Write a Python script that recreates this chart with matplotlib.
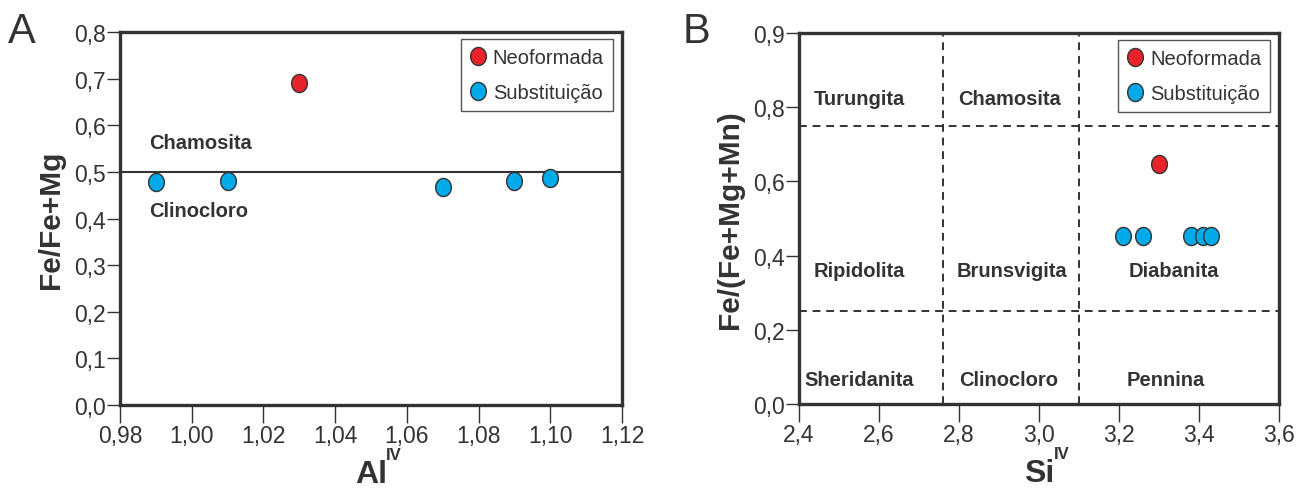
import matplotlib
matplotlib.use("Agg")
import matplotlib.pyplot as plt
import numpy as np
from matplotlib.path import Path
from matplotlib.lines import Line2D

# ---------------- data ----------------
# Panel A
a_neo_x = [1.03]
a_neo_y = [0.69]
a_sub_x = [0.99, 1.01, 1.07, 1.09, 1.10]
a_sub_y = [0.479, 0.480, 0.467, 0.481, 0.486]
a_xticks = [0.98, 1.00, 1.02, 1.04, 1.06, 1.08, 1.10, 1.12]
a_xticklabels = ["0,98", "1,00", "1,02", "1,04", "1,06", "1,08", "1,10", "1,12"]
a_yticks = [0.0, 0.1, 0.2, 0.3, 0.4, 0.5, 0.6, 0.7, 0.8]
a_yticklabels = ["0,0", "0,1", "0,2", "0,3", "0,4", "0,5", "0,6", "0,7", "0,8"]
a_boundary = 0.5
a_fields = ["Chamosita", "Clinocloro"]
a_field_x = [0.988, 0.988]
a_field_y = [0.564, 0.418]

# Panel B
b_neo_x = [3.30]
b_neo_y = [0.648]
b_sub_x = [3.21, 3.26, 3.38, 3.41, 3.43]
b_sub_y = [0.452, 0.452, 0.452, 0.452, 0.452]
b_xticks = [2.4, 2.6, 2.8, 3.0, 3.2, 3.4, 3.6]
b_xticklabels = ["2,4", "2,6", "2,8", "3,0", "3,2", "3,4", "3,6"]
b_yticks = [0.0, 0.2, 0.4, 0.6, 0.8, 1.0]
b_yticklabels = ["0,0", "0,2", "0,4", "0,6", "0,8", "0,9"]
b_vlines = [2.76, 3.10]
b_hlines = [0.25, 0.75]
b_fields = ["Turungita", "Chamosita", "Ripidolita", "Brunsvigita", "Diabanita",
            "Sheridanita", "Clinocloro", "Pennina"]
b_field_x = [2.55, 2.925, 2.55, 2.932, 3.337, 2.55, 2.923, 3.318]
b_field_y = [0.823, 0.823, 0.36, 0.36, 0.36, 0.065, 0.065, 0.065]

series_labels = ["Neoformada", "Substituição"]

# ---------------- style ----------------
RED = "#E8232B"
BLUE = "#00A9E8"
DARK = "#333333"
plt.rcParams['font.family'] = ['Liberation Sans', 'DejaVu Sans']

TICKSIZE = 16.5
LBLSIZE = 14.5
LEGSIZE = 14.5
AXLBL = 21.5

t = np.linspace(0, 2 * np.pi, 60)
ell = Path(np.column_stack([0.87 * np.cos(t), np.sin(t)]), closed=True)
MS = 13

fig = plt.figure(figsize=(13.02, 4.89), dpi=100)
axA = fig.add_axes([0.0922, 0.1697, 0.4777 - 0.0922, 0.9325 - 0.1697])
axB = fig.add_axes([0.6137, 0.1718, 0.9823 - 0.6137, 0.9305 - 0.1718])


def style(ax):
    for s in ax.spines.values():
        s.set_linewidth(2.4)
        s.set_color(DARK)
    ax.tick_params(axis='x', direction='out', length=13, width=1.0, color=DARK,
                   labelcolor=DARK, labelsize=TICKSIZE, pad=1)
    ax.tick_params(axis='y', direction='out', length=9.5, width=1.0, color=DARK,
                   labelcolor=DARK, labelsize=TICKSIZE, pad=1)


def legend(ax):
    handles = [Line2D([], [], linestyle='none', marker=ell, markersize=MS,
                      markerfacecolor=c, markeredgecolor=DARK, markeredgewidth=1.0)
               for c in (RED, BLUE)]
    lg = ax.legend(handles, series_labels, loc='upper right',
                   bbox_to_anchor=(0.982, 0.982), borderaxespad=0,
                   fontsize=LEGSIZE, fancybox=False, framealpha=1,
                   edgecolor="#555555", handlelength=0.8, handletextpad=0.35,
                   borderpad=0.45, labelspacing=0.8)
    lg.get_frame().set_linewidth(1.0)
    for tx in lg.get_texts():
        tx.set_color(DARK)


def scatter(ax, xs, ys, color):
    ax.plot(xs, ys, linestyle='none', marker=ell, markersize=MS,
            markerfacecolor=color, markeredgecolor=DARK, markeredgewidth=1.0,
            zorder=5, clip_on=False)


def xlabel_sup(ax, main, sup):
    ax.set_xlabel(main, fontsize=23, fontweight='bold', color=DARK, labelpad=8)
    ax.annotate(sup, xy=(1, 1), xycoords=ax.xaxis.label, xytext=(-0.5, -2.5),
                textcoords='offset points', fontsize=12, fontweight='bold',
                color=DARK, ha='left', va='bottom')

# ---------------- Panel A ----------------
style(axA)
axA.set_xlim(a_xticks[0], a_xticks[-1])
axA.set_ylim(a_yticks[0], a_yticks[-1])
axA.set_xticks(a_xticks)
axA.set_xticklabels(a_xticklabels)
axA.set_yticks(a_yticks)
axA.set_yticklabels(a_yticklabels)
axA.axhline(a_boundary, color=DARK, lw=1.5, zorder=2)
scatter(axA, a_neo_x, a_neo_y, RED)
scatter(axA, a_sub_x, a_sub_y, BLUE)
for name, x, y in zip(a_fields, a_field_x, a_field_y):
    axA.text(x, y, name, fontsize=LBLSIZE, fontweight='bold', color=DARK,
             ha='left', va='center')
xlabel_sup(axA, 'Al', 'IV')
axA.set_ylabel('Fe/Fe+Mg', fontsize=AXLBL, fontweight='bold', color=DARK, labelpad=6)
legend(axA)

# ---------------- Panel B ----------------
style(axB)
axB.set_xlim(b_xticks[0], b_xticks[-1])
axB.set_ylim(b_yticks[0], b_yticks[-1])
axB.set_xticks(b_xticks)
axB.set_xticklabels(b_xticklabels)
axB.set_yticks(b_yticks)
axB.set_yticklabels(b_yticklabels)
for v in b_vlines:
    axB.axvline(v, color=DARK, lw=1.4, ls=(0, (4, 3)), zorder=2)
for h in b_hlines:
    axB.axhline(h, color=DARK, lw=1.4, ls=(0, (4, 3)), zorder=2)
scatter(axB, b_neo_x, b_neo_y, RED)
scatter(axB, b_sub_x, b_sub_y, BLUE)
for name, x, y in zip(b_fields, b_field_x, b_field_y):
    axB.text(x, y, name, fontsize=LBLSIZE, fontweight='bold', color=DARK,
             ha='center', va='center')
xlabel_sup(axB, 'Si', 'IV')
axB.set_ylabel('Fe/(Fe+Mg+Mn)', fontsize=AXLBL, fontweight='bold', color=DARK, labelpad=6)
legend(axB)

# panel letters
fig.text(8 / 1302, 1 - 43 / 489, 'A', fontsize=30, color=DARK, ha='left', va='baseline')
fig.text(683 / 1302, 1 - 43 / 489, 'B', fontsize=30, color=DARK, ha='left', va='baseline')

fig.savefig('out.png', dpi=100)
